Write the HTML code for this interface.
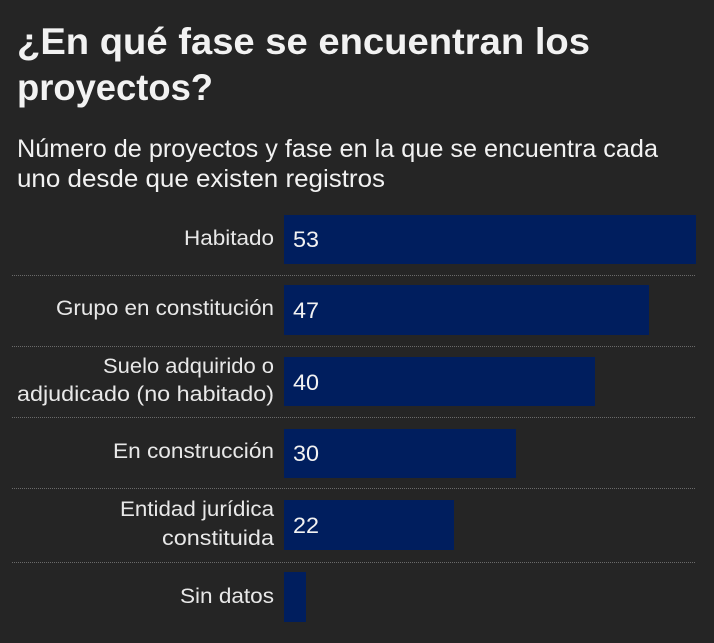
<!DOCTYPE html>
<html><head><meta charset="utf-8"><style>
html,body{margin:0;padding:0;background:#252525;}
svg{display:block;}
text{font-family:"Liberation Sans",sans-serif;fill:#f2f2f2;}
.l{font-size:21px;text-anchor:end;fill:#e8e8e8;}
.v{font-size:22px;fill:#f2f2f2;}
</style></head><body>
<svg width="714" height="643" viewBox="0 0 714 643" xmlns="http://www.w3.org/2000/svg">
<rect width="714" height="643" fill="#252525"/>
<text x="17" y="54" font-size="37" font-weight="bold" textLength="573" lengthAdjust="spacingAndGlyphs">¿En qué fase se encuentran los</text>
<text x="17" y="100" font-size="37" font-weight="bold" textLength="196" lengthAdjust="spacingAndGlyphs">proyectos?</text>
<text x="17" y="157" font-size="25" textLength="641" lengthAdjust="spacingAndGlyphs" fill="#e8e8e8">Número de proyectos y fase en la que se encuentra cada</text>
<text x="17" y="187" font-size="25" textLength="368" lengthAdjust="spacingAndGlyphs" fill="#e8e8e8">uno desde que existen registros</text>
<g stroke="#6a6a6a" stroke-width="1" stroke-dasharray="1,1">
<line x1="12" y1="275.5" x2="696" y2="275.5"/>
<line x1="12" y1="346.5" x2="696" y2="346.5"/>
<line x1="12" y1="417.5" x2="696" y2="417.5"/>
<line x1="12" y1="488.5" x2="696" y2="488.5"/>
<line x1="12" y1="562.5" x2="696" y2="562.5"/>
</g>
<g fill="#001e5e">
<rect x="284" y="215" width="412" height="49"/>
<rect x="284" y="285" width="365" height="50"/>
<rect x="284" y="357" width="311" height="49"/>
<rect x="284" y="429" width="232" height="49"/>
<rect x="284" y="500" width="170" height="50"/>
<rect x="284" y="572" width="22" height="50"/>
</g>
<text class="l" x="274" y="245" textLength="90" lengthAdjust="spacingAndGlyphs">Habitado</text>
<text class="l" x="274" y="315" textLength="218" lengthAdjust="spacingAndGlyphs">Grupo en constitución</text>
<text class="l" x="274" y="373" textLength="171" lengthAdjust="spacingAndGlyphs">Suelo adquirido o</text>
<text class="l" x="274" y="401" textLength="257" lengthAdjust="spacingAndGlyphs">adjudicado (no habitado)</text>
<text class="l" x="274" y="458" textLength="161" lengthAdjust="spacingAndGlyphs">En construcción</text>
<text class="l" x="274" y="516" textLength="154" lengthAdjust="spacingAndGlyphs">Entidad jurídica</text>
<text class="l" x="274" y="545" textLength="112" lengthAdjust="spacingAndGlyphs">constituida</text>
<text class="l" x="274" y="603" textLength="94" lengthAdjust="spacingAndGlyphs">Sin datos</text>
<text class="v" x="293" y="247" textLength="26" lengthAdjust="spacingAndGlyphs">53</text>
<text class="v" x="293" y="318" textLength="26" lengthAdjust="spacingAndGlyphs">47</text>
<text class="v" x="293" y="390" textLength="26" lengthAdjust="spacingAndGlyphs">40</text>
<text class="v" x="293" y="461" textLength="26" lengthAdjust="spacingAndGlyphs">30</text>
<text class="v" x="293" y="533" textLength="26" lengthAdjust="spacingAndGlyphs">22</text>
</svg>
</body></html>
